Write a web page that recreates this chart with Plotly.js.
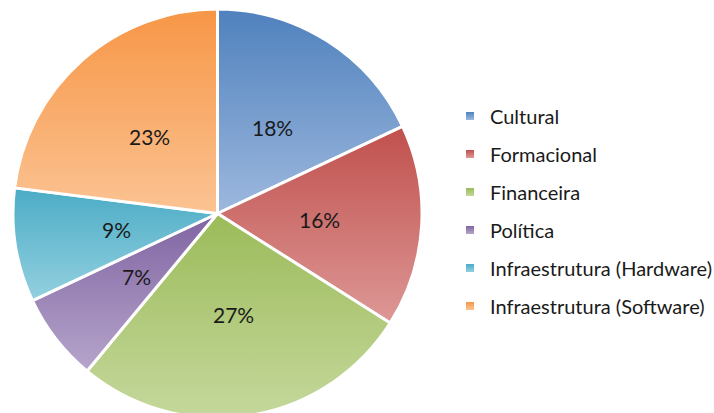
<!DOCTYPE html>
<html>
<head>
<meta charset="utf-8">
<script src="https://cdn.plot.ly/plotly-3.0.1.min.js"></script>
<style>
html,body{margin:0;padding:0;background:#fff;overflow:hidden;width:714px;height:413px;}
#chart{width:714px;height:420px;}
</style>
</head>
<body>
<div id="chart"></div>
<script>
// ---- data ----
const categories = ['Cultural', 'Formacional', 'Financeira', 'Política', 'Infraestrutura (Hardware)', 'Infraestrutura (Software)'];
const values = [18, 16, 27, 7, 9, 23];

// ---- styles ----
const topColors = ['#4f81bd', '#c0504d', '#9bbb59', '#8064a2', '#4bacc6', '#f79646'];
const bottomColors = ['#9db8de', '#dd9896', '#c5d89c', '#b6a5cb', '#94d0df', '#fbc393'];
const midColors = ['#7499cd', '#cf7572', '#b0ca7c', '#9b85b8', '#70bfd3', '#f9ad6c'];
const FONT = 'Lato, "Open Sans", sans-serif';
const DOMAIN = {x: [13 / 714, 422 / 714], y: [2 / 420, 411 / 420]};

// label positions (slice bisectors at half radius) derived from the data
const total = values.reduce((a, b) => a + b, 0);
let cum = 0;
const bisectors = values.map(v => { const t = (cum + v / 2) / total * 2 * Math.PI; cum += v; return t; });
const percentText = values.map(v => Math.round(v / total * 100) + '%');
const LABEL_R = 0.5;

const pie = {
  type: 'pie',
  labels: categories,
  values: values,
  sort: false,
  direction: 'clockwise',
  rotation: 0,
  textinfo: 'none',
  marker: {colors: midColors, line: {color: '#ffffff', width: 3}},
  domain: DOMAIN,
  showlegend: false,
  hoverinfo: 'none'
};

const legendTraces = categories.map((c, i) => ({
  type: 'scatter',
  mode: 'markers',
  x: [null], y: [null],
  name: c,
  legendgroup: 'g' + i,
  marker: {symbol: 'square', size: 8, color: midColors[i]},
  hoverinfo: 'none'
}));

const annotations = percentText.map((t, i) => ({
  xref: 'x', yref: 'y',
  x: LABEL_R * Math.sin(bisectors[i]),
  y: LABEL_R * Math.cos(bisectors[i]),
  text: t, showarrow: false,
  xanchor: 'center', yanchor: 'middle',
  font: {family: FONT, size: 21, color: '#1a1a1a'}
}));

const layout = {
  width: 714, height: 420,
  margin: {l: 0, r: 0, t: 0, b: 0, autoexpand: false},
  paper_bgcolor: '#ffffff', plot_bgcolor: 'rgba(0,0,0,0)',
  xaxis: {visible: false, domain: DOMAIN.x, range: [-1, 1], fixedrange: true},
  yaxis: {visible: false, domain: DOMAIN.y, range: [-1, 1], fixedrange: true},
  annotations: annotations,
  showlegend: true,
  legend: {
    x: 450 / 714, xanchor: 'left',
    y: 1 - 96.5 / 420, yanchor: 'top',
    font: {family: FONT, size: 20, color: '#1a1a1a'},
    tracegroupgap: 9,
    bgcolor: 'rgba(0,0,0,0)'
  }
};

Plotly.newPlot('chart', [pie].concat(legendTraces), layout, {staticPlot: true, displayModeBar: false}).then(gd => {
  const svg = gd.querySelector('svg.main-svg');
  const ns = 'http://www.w3.org/2000/svg';
  let defs = svg.querySelector('defs');
  if (!defs) { defs = document.createElementNS(ns, 'defs'); svg.insertBefore(defs, svg.firstChild); }
  topColors.forEach((tc, i) => {
    const g = document.createElementNS(ns, 'linearGradient');
    g.setAttribute('id', 'sliceGrad' + i);
    g.setAttribute('x1', '0'); g.setAttribute('y1', '0');
    g.setAttribute('x2', '0'); g.setAttribute('y2', '1');
    const s1 = document.createElementNS(ns, 'stop');
    s1.setAttribute('offset', '0'); s1.setAttribute('stop-color', tc);
    const s2 = document.createElementNS(ns, 'stop');
    s2.setAttribute('offset', '1'); s2.setAttribute('stop-color', bottomColors[i]);
    g.appendChild(s1); g.appendChild(s2);
    defs.appendChild(g);
  });
  gd.querySelectorAll('g.slice').forEach((sl, i) => {
    const p = sl.querySelector('path.surface');
    if (p) p.style.fill = 'url(#sliceGrad' + i + ')';
  });
  gd.querySelectorAll('g.legend g.traces').forEach((tr, i) => {
    tr.querySelectorAll('path.scatterpts').forEach(p => { p.style.fill = 'url(#sliceGrad' + i + ')'; });
  });
});
</script>
</body>
</html>
